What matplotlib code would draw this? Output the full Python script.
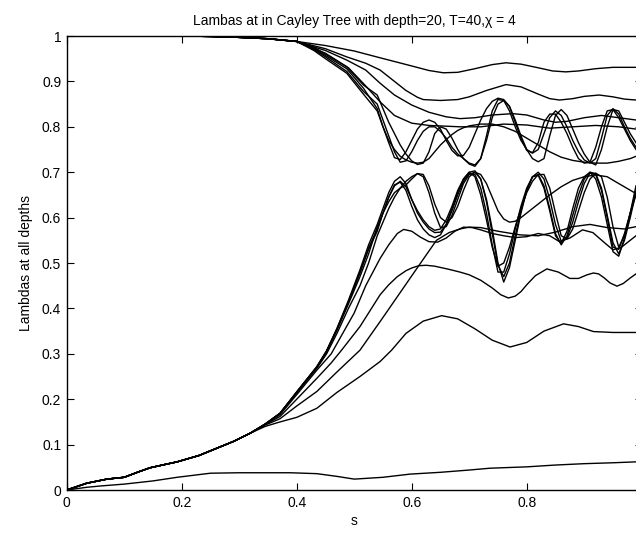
import matplotlib.pyplot as plt

plt.rcParams['font.family'] = ['Liberation Sans', 'DejaVu Sans']

# common sampling grid for the oscillating part (s = 0.54 ... 0.99)
grid = [round(0.54 + 0.01 * i, 2) for i in range(46)]

# shared early parts: upper curves sit at 1, lower ones rise together
s_top0 = [0, 0.1, 0.2, 0.25, 0.3, 0.35, 0.4]
v_top0 = [1, 1, 1, 0.999, 0.997, 0.994, 0.988]
s_low0 = [0, 0.035, 0.07, 0.1, 0.125, 0.145, 0.17, 0.192, 0.23, 0.261, 0.29, 0.319]
v_low0 = [0, 0.015, 0.024, 0.028, 0.04, 0.049, 0.056, 0.062, 0.076, 0.092, 0.107, 0.125]

# ---- upper group ----
s_u1 = [0.45, 0.5, 0.545, 0.6, 0.63, 0.655, 0.68, 0.71, 0.74, 0.764, 0.79, 0.82, 0.845, 0.868,
        0.89, 0.92, 0.95, 0.99]
v_u1 = [0.979, 0.967, 0.952, 0.934, 0.924, 0.919, 0.92, 0.928, 0.937, 0.941, 0.938, 0.93, 0.923,
        0.921, 0.923, 0.928, 0.931, 0.931]
s_u2 = [0.45, 0.487, 0.52, 0.545, 0.57, 0.59, 0.61, 0.62, 0.65, 0.68, 0.70, 0.73, 0.764, 0.79,
        0.82, 0.84, 0.857, 0.88, 0.9, 0.926, 0.95, 0.97, 0.99]
v_u2 = [0.972, 0.954, 0.94, 0.925, 0.90, 0.88, 0.865, 0.86, 0.858, 0.86, 0.866, 0.88, 0.893, 0.888,
        0.872, 0.862, 0.859, 0.862, 0.867, 0.870, 0.866, 0.861, 0.859]
s_u3 = [0.45, 0.487, 0.52, 0.545, 0.57, 0.6, 0.63, 0.66, 0.684, 0.71, 0.74, 0.776, 0.8, 0.83,
        0.85, 0.87, 0.9, 0.93, 0.96, 0.99]
v_u3 = [0.968, 0.947, 0.925, 0.896, 0.87, 0.848, 0.832, 0.822, 0.818, 0.82, 0.826, 0.829, 0.826,
        0.815, 0.81, 0.812, 0.82, 0.825, 0.82, 0.815]
s_u4 = [0.45, 0.49, 0.52, 0.545, 0.57, 0.6, 0.63, 0.684, 0.72, 0.76, 0.8, 0.84, 0.88, 0.92, 0.96, 0.99]
v_u4 = [0.962, 0.93, 0.89, 0.855, 0.825, 0.808, 0.803, 0.80, 0.80, 0.806, 0.804, 0.797, 0.80,
        0.803, 0.80, 0.795]

s_w0 = [0.43, 0.45, 0.487, 0.516]
v_w1 = [0.972, 0.957, 0.928, 0.885,
        0.84, 0.80, 0.765, 0.732, 0.728, 0.745, 0.77, 0.795, 0.81, 0.815,
        0.81, 0.795, 0.77, 0.748, 0.736, 0.737, 0.755, 0.785, 0.815, 0.84,
        0.856, 0.863, 0.86, 0.845, 0.81, 0.775, 0.748, 0.743, 0.765, 0.81,
        0.828, 0.828, 0.81, 0.785, 0.755, 0.73, 0.72, 0.722, 0.755, 0.80,
        0.835, 0.838, 0.82, 0.795, 0.77, 0.75]
v_w2 = [0.97, 0.954, 0.922, 0.878,
        0.85, 0.815, 0.78, 0.745, 0.722, 0.725, 0.745, 0.77, 0.79, 0.80,
        0.80, 0.79, 0.775, 0.755, 0.74, 0.73, 0.72, 0.716, 0.73, 0.77,
        0.82, 0.85, 0.858, 0.845, 0.815, 0.78, 0.75, 0.73, 0.723, 0.73,
        0.78, 0.825, 0.838, 0.825, 0.795, 0.765, 0.74, 0.722, 0.716, 0.75,
        0.80, 0.838, 0.835, 0.81, 0.785, 0.765]
v_w3 = [0.975, 0.96, 0.932, 0.892,
        0.87, 0.84, 0.81, 0.785, 0.76, 0.74, 0.725, 0.717, 0.72, 0.745,
        0.785, 0.80, 0.795, 0.775, 0.75, 0.73, 0.718, 0.713, 0.73, 0.78,
        0.835, 0.86, 0.858, 0.835, 0.80, 0.77, 0.75, 0.742, 0.75, 0.785,
        0.82, 0.835, 0.825, 0.80, 0.77, 0.745, 0.727, 0.72, 0.73, 0.775,
        0.825, 0.84, 0.828, 0.80, 0.775, 0.755]
s_w4 = [0.43, 0.45, 0.487, 0.516, 0.54, 0.55, 0.56, 0.57, 0.58, 0.59, 0.60, 0.61, 0.62, 0.63,
        0.64, 0.65, 0.66, 0.67, 0.68, 0.69, 0.70, 0.72, 0.74, 0.76, 0.78, 0.80, 0.82, 0.84, 0.86,
        0.88, 0.90, 0.92, 0.94, 0.96, 0.98, 0.99]
v_w4 = [0.968, 0.95, 0.918, 0.872, 0.835, 0.80, 0.77, 0.75, 0.735, 0.727, 0.722, 0.72, 0.722,
        0.73, 0.745, 0.76, 0.772, 0.783, 0.792, 0.798, 0.802, 0.806, 0.806, 0.80, 0.79, 0.775,
        0.76, 0.745, 0.733, 0.726, 0.722, 0.72, 0.72, 0.724, 0.73, 0.735]

# ---- lower group ----
s_m0 = [0.345, 0.371, 0.4, 0.435, 0.452, 0.47, 0.49, 0.51, 0.525]
v_m1 = [0.145, 0.169, 0.216, 0.272, 0.307, 0.356, 0.418, 0.485, 0.54,
        0.585, 0.62, 0.655, 0.68, 0.69, 0.675, 0.64, 0.61, 0.59, 0.575,
        0.567, 0.568, 0.585, 0.615, 0.65, 0.68, 0.697, 0.695, 0.665, 0.61,
        0.54, 0.48, 0.48, 0.52, 0.575, 0.625, 0.665, 0.69, 0.70, 0.685,
        0.64, 0.585, 0.548, 0.555, 0.59, 0.635, 0.675, 0.698, 0.695, 0.66,
        0.60, 0.535, 0.53, 0.565, 0.61, 0.65]
v_m2 = [0.145, 0.169, 0.215, 0.27, 0.305, 0.352, 0.41, 0.47, 0.52,
        0.58, 0.61, 0.635, 0.655, 0.665, 0.672, 0.685, 0.697, 0.69, 0.655,
        0.61, 0.578, 0.58, 0.605, 0.64, 0.675, 0.695, 0.70, 0.685, 0.64,
        0.575, 0.50, 0.458, 0.49, 0.55, 0.61, 0.66, 0.69, 0.693, 0.665,
        0.615, 0.56, 0.543, 0.57, 0.62, 0.665, 0.69, 0.70, 0.685, 0.645,
        0.585, 0.525, 0.515, 0.555, 0.61, 0.66]
v_m3 = [0.145, 0.169, 0.216, 0.271, 0.306, 0.355, 0.415, 0.48, 0.53,
        0.57, 0.61, 0.645, 0.672, 0.678, 0.66, 0.625, 0.595, 0.575, 0.562,
        0.556, 0.562, 0.585, 0.62, 0.655, 0.685, 0.70, 0.69, 0.65, 0.595,
        0.535, 0.493, 0.50, 0.535, 0.58, 0.62, 0.655, 0.68, 0.695, 0.695,
        0.665, 0.61, 0.56, 0.553, 0.575, 0.615, 0.655, 0.685, 0.698, 0.69,
        0.645, 0.58, 0.535, 0.56, 0.61, 0.67]
v_m5 = [0.145, 0.169, 0.216, 0.271, 0.306, 0.354, 0.414, 0.478, 0.533,
        0.575, 0.61, 0.645, 0.67, 0.68, 0.668, 0.64, 0.615, 0.595, 0.58,
        0.572, 0.575, 0.595, 0.625, 0.66, 0.685, 0.70, 0.703, 0.685, 0.635,
        0.565, 0.495, 0.47, 0.50, 0.56, 0.615, 0.66, 0.69, 0.695, 0.67,
        0.62, 0.565, 0.54, 0.56, 0.605, 0.65, 0.685, 0.70, 0.697, 0.665,
        0.605, 0.545, 0.52, 0.55, 0.60, 0.655]
s_m4 = [0.345, 0.371, 0.4, 0.435, 0.452, 0.47, 0.49, 0.51, 0.525,
        0.54, 0.55, 0.56, 0.57, 0.58, 0.59, 0.60, 0.61, 0.62, 0.63, 0.64, 0.65, 0.66, 0.67, 0.68,
        0.69, 0.70, 0.71, 0.72, 0.73, 0.74, 0.75, 0.76, 0.77, 0.78, 0.79, 0.80, 0.82, 0.84, 0.86,
        0.88, 0.90, 0.92, 0.94, 0.96, 0.99]
v_m4 = [0.145, 0.168, 0.214, 0.268, 0.30, 0.345, 0.40, 0.45, 0.50,
        0.56, 0.59, 0.62, 0.645, 0.665, 0.68, 0.69, 0.697, 0.695, 0.67, 0.63, 0.60, 0.59, 0.60,
        0.625, 0.66, 0.69, 0.70, 0.695, 0.675, 0.645, 0.615, 0.597, 0.59, 0.592, 0.60, 0.61,
        0.63, 0.65, 0.668, 0.682, 0.69, 0.694, 0.69, 0.675, 0.653]
s_ld = [0.345, 0.371, 0.4, 0.435, 0.46, 0.5, 0.52, 0.545, 0.56, 0.575, 0.586, 0.6, 0.615, 0.63,
        0.645, 0.66, 0.675, 0.69, 0.705, 0.72, 0.74, 0.76, 0.78, 0.80, 0.82, 0.84, 0.857, 0.875,
        0.897, 0.915, 0.935, 0.95, 0.965, 0.99]
v_ld = [0.145, 0.166, 0.21, 0.264, 0.30, 0.39, 0.45, 0.51, 0.54, 0.565, 0.574, 0.57, 0.557, 0.547,
        0.546, 0.555, 0.57, 0.579, 0.578, 0.573, 0.565, 0.56, 0.556, 0.558, 0.565, 0.56, 0.547,
        0.555, 0.573, 0.567, 0.545, 0.529, 0.535, 0.56]
s_lc = [0.345, 0.371, 0.4, 0.435, 0.47, 0.51, 0.545, 0.58, 0.61, 0.643, 0.665, 0.684, 0.70, 0.72,
        0.75, 0.788, 0.82, 0.85, 0.88, 0.91, 0.94, 0.97, 0.99]
v_lc = [0.143, 0.157, 0.185, 0.217, 0.26, 0.308, 0.371, 0.435, 0.49, 0.55, 0.567, 0.575, 0.579,
        0.578, 0.57, 0.562, 0.56, 0.568, 0.58, 0.585, 0.578, 0.575, 0.58]
s_lb = [0.345, 0.371, 0.4, 0.435, 0.46, 0.478, 0.51, 0.53, 0.545, 0.56, 0.575, 0.59, 0.6, 0.612,
        0.625, 0.64, 0.665, 0.684, 0.70, 0.72, 0.74, 0.755, 0.768, 0.78, 0.79, 0.80, 0.815, 0.835,
        0.855, 0.875, 0.89, 0.905, 0.916, 0.925, 0.935, 0.945, 0.957, 0.968, 0.98, 0.99]
v_lb = [0.144, 0.162, 0.2, 0.246, 0.28, 0.308, 0.36, 0.40, 0.43, 0.452, 0.47, 0.483, 0.489, 0.494,
        0.495, 0.493, 0.486, 0.48, 0.474, 0.462, 0.445, 0.43, 0.423, 0.427, 0.437, 0.452, 0.472,
        0.487, 0.48, 0.466, 0.466, 0.474, 0.478, 0.476, 0.467, 0.456, 0.449, 0.455, 0.467, 0.476]
s_la = [0.345, 0.371, 0.4, 0.435, 0.47, 0.51, 0.545, 0.565, 0.59, 0.62, 0.652, 0.68, 0.71, 0.74,
        0.771, 0.80, 0.83, 0.864, 0.89, 0.916, 0.95, 0.99]
v_la = [0.14, 0.15, 0.16, 0.18, 0.215, 0.25, 0.283, 0.308, 0.345, 0.372, 0.384, 0.377, 0.355,
        0.33, 0.315, 0.325, 0.35, 0.366, 0.36, 0.349, 0.347, 0.347]
s_b = [0, 0.035, 0.06, 0.1, 0.15, 0.192, 0.25, 0.3, 0.348, 0.389, 0.435, 0.47, 0.5, 0.55, 0.597,
       0.65, 0.7, 0.736, 0.8, 0.85, 0.9, 0.95, 0.99]
v_b = [0, 0.006, 0.009, 0.013, 0.02, 0.028, 0.037, 0.038, 0.038, 0.038, 0.036, 0.03, 0.024, 0.028,
       0.035, 0.039, 0.044, 0.048, 0.051, 0.055, 0.058, 0.060, 0.062]

upper = [(s_u1, v_u1), (s_u2, v_u2), (s_u3, v_u3), (s_u4, v_u4),
         (s_w0 + grid, v_w1), (s_w0 + grid, v_w2), (s_w0 + grid, v_w3), (s_w4, v_w4)]
lower = [(s_m0 + grid, v_m1), (s_m0 + grid, v_m2), (s_m0 + grid, v_m3), (s_m4, v_m4),
         (s_m0 + grid, v_m5), (s_ld, v_ld), (s_lc, v_lc), (s_lb, v_lb), (s_la, v_la)]

fig = plt.figure(figsize=(6.36, 5.35), dpi=100)
ax = fig.add_axes([0.1049, 0.0841, 0.9041, 0.8486])

for s, v in upper:
    ax.plot(s_top0 + s, v_top0 + v, color='black', lw=1.0)
for s, v in lower:
    ax.plot(s_low0 + s, v_low0 + v, color='black', lw=1.0)
ax.plot(s_b, v_b, color='black', lw=1.0)

ax.set_xlim(0, 1)
ax.set_ylim(0, 1)
ax.set_xticks([0, 0.2, 0.4, 0.6, 0.8, 1])
ax.set_xticklabels(['0', '0.2', '0.4', '0.6', '0.8', ''])
ax.set_yticks([i / 10 for i in range(11)])
ax.set_yticklabels(['0', '0.1', '0.2', '0.3', '0.4', '0.5', '0.6', '0.7', '0.8', '0.9', '1'])
ax.tick_params(direction='in', top=True, right=True, length=5, labelsize=10, pad=4)
for sp in ax.spines.values():
    sp.set_linewidth(1.0)
ax.set_xlabel('s', fontsize=10, labelpad=3)
ax.set_ylabel('Lambdas at all depths', fontsize=10, labelpad=6)
ax.set_title('Lambas at in Cayley Tree with depth=20, T=40,χ = 4', fontsize=10, pad=8)

fig.savefig('out.png', dpi=100)
